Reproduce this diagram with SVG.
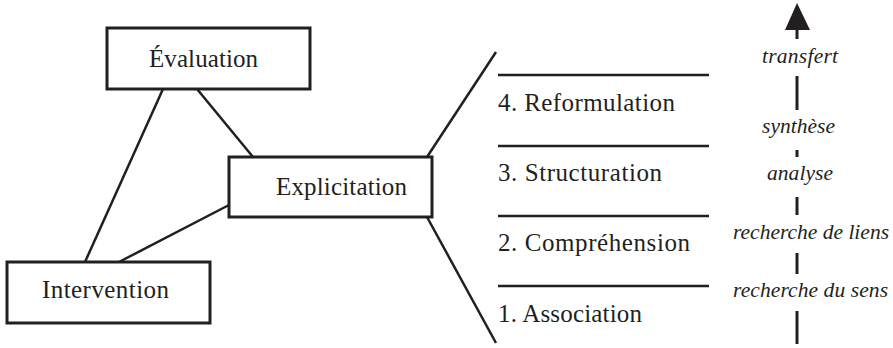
<svg xmlns="http://www.w3.org/2000/svg" width="893" height="348" viewBox="0 0 893 348">
<style>
.box{fill:#fff;stroke:#231f20;stroke-width:3}
.ln{stroke:#231f20;stroke-width:2.5;fill:none}
text{font-family:'Liberation Serif','Times New Roman','DejaVu Serif',serif;fill:#231f20}
.t{font-size:25px}
.i{font-style:italic;font-size:21.5px}
</style>
<rect width="893" height="348" fill="#fff"/>
<g id="connectors">
<line class="ln" x1="163" y1="89" x2="85" y2="262"/>
<line class="ln" x1="197" y1="89" x2="253" y2="157"/>
<line class="ln" x1="229" y1="205" x2="119" y2="262"/>
<line class="ln" x1="427" y1="157" x2="496" y2="52"/>
<line class="ln" x1="427" y1="217" x2="496" y2="343"/>
</g>
<g id="evaluation"><rect class="box" x="107" y="28" width="203" height="61"/><text class="t" x="149" y="67" textLength="109">Évaluation</text></g>
<g id="explicitation"><rect class="box" x="229" y="157" width="203" height="60"/><text class="t" x="276" y="195" textLength="131">Explicitation</text></g>
<g id="intervention"><rect class="box" x="7" y="262" width="203" height="61"/><text class="t" x="42" y="298" textLength="127">Intervention</text></g>
<g id="levels">
<line class="ln" x1="498" y1="75" x2="709" y2="75"/>
<line class="ln" x1="498" y1="146" x2="709" y2="146"/>
<line class="ln" x1="498" y1="216" x2="709" y2="216"/>
<line class="ln" x1="498" y1="286" x2="709" y2="286"/>
<text class="t" x="498" y="111" textLength="177">4. Reformulation</text>
<text class="t" x="498" y="181" textLength="164">3. Structuration</text>
<text class="t" x="498" y="251" textLength="192">2. Compréhension</text>
<text class="t" x="498" y="322" textLength="144">1. Association</text>
</g>
<g id="axis">
<polygon points="797,3 785,30 810,30" fill="#231f20"/>
<g class="ln" style="stroke-width:3">
<line x1="797" y1="29" x2="797" y2="39"/>
<line x1="797" y1="76" x2="797" y2="110"/>
<line x1="797" y1="150" x2="797" y2="157"/>
<line x1="797" y1="197" x2="797" y2="215"/>
<line x1="797" y1="253" x2="797" y2="274"/>
<line x1="797" y1="311" x2="797" y2="344"/>
</g>
<text class="i" x="762" y="63" textLength="76">transfert</text>
<text class="i" x="762" y="133" textLength="73">synthèse</text>
<text class="i" x="767" y="180" textLength="66">analyse</text>
<text class="i" x="733" y="239" textLength="156">recherche de liens</text>
<text class="i" x="733" y="297" textLength="155">recherche du sens</text>
</g>
</svg>
